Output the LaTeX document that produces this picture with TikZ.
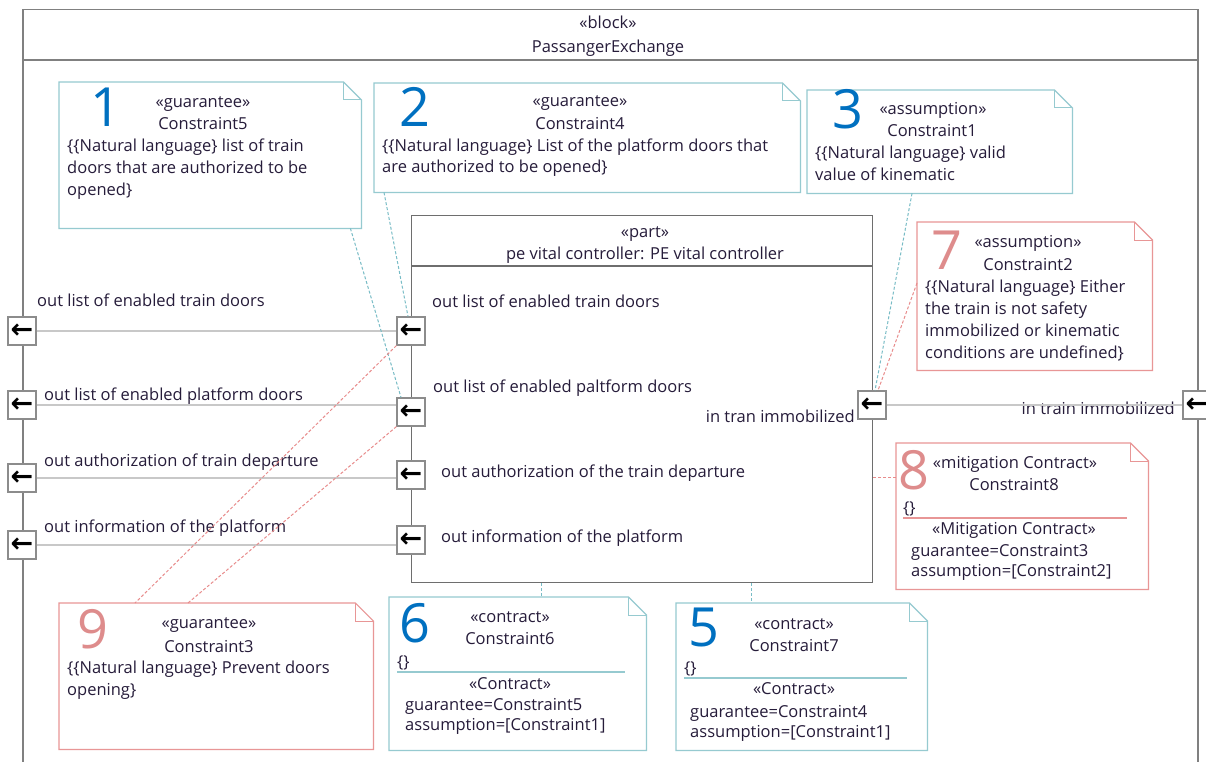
\documentclass[tikz,border=0pt]{standalone}
\usepackage{fontspec}
\setmainfont{Open Sans}
\newfontfamily\arrowfont{DejaVu Sans}
\usetikzlibrary{calc}
\definecolor{ink}{RGB}{38,28,58}
\definecolor{framegray}{RGB}{128,128,128}
\definecolor{partgray}{RGB}{110,110,110}
\definecolor{linegray}{RGB}{200,200,200}
\definecolor{portgray}{RGB}{140,140,140}
\definecolor{teal}{RGB}{150,202,208}
\definecolor{tealdash}{RGB}{120,188,198}
\definecolor{pinkb}{RGB}{232,150,150}
\definecolor{pinkdash}{RGB}{232,140,140}
\definecolor{digblue}{RGB}{0,112,192}
\definecolor{digpink}{RGB}{222,140,140}
\tikzset{
  txt/.style={inner sep=0, text=ink, font=\fontsize{16.5}{20}\selectfont},
  lbl/.style={txt, anchor=base west},
  ctr/.style={txt, anchor=base},
  rlbl/.style={txt, anchor=base east},
  bigdig/.style={inner sep=0, anchor=base west, font=\fontsize{54}{54}\selectfont},
  notebox/.style={draw=none, inner sep=0, anchor=north west},
  port/.style={draw=portgray, fill=white, line width=1.2pt, minimum size=28pt, inner sep=0,
               font=\arrowfont\bfseries\fontsize{27}{27}\selectfont, text=black},
  conn/.style={draw=linegray, line width=2pt},
  tdash/.style={draw=tealdash, line width=1pt, dash pattern=on 3pt off 2pt},
  pdash/.style={draw=pinkdash, line width=1pt, dash pattern=on 3pt off 2pt},
}
\newcommand\notefold[2]{%
  \draw[#2, line width=1.2pt] (#1.north west) -- ([xshift=-18pt]#1.north east) -- ([yshift=-18pt]#1.north east) -- (#1.south east) -- (#1.south west) -- cycle;
  \draw[#2, line width=1pt] ([xshift=-18pt]#1.north east) |- ([yshift=-18pt]#1.north east);}
\begin{document}
\begin{tikzpicture}[x=1pt,y=-1pt]
\useasboundingbox (0,0) rectangle (1206,762);
\fill[white] (0,0) rectangle (1206,762);

% outer block
\node[draw=framegray, line width=1.5pt, anchor=north west, minimum width=1175pt, minimum height=800pt, inner sep=0] (block) at (22,9) {};
\draw[framegray, line width=1.5pt] ($(block.north west)+(0,51)$) coordinate (bh1) -- ($(block.north east)+(0,51)$) coordinate (bh2);
\node[ctr] (tblock1) at (608,29) {«block»};
\node[ctr] (tblock2) at (608,53) {PassangerExchange};

% part
\node[draw=partgray, line width=1.2pt, anchor=north west, minimum width=461pt, minimum height=367pt, inner sep=0] (part) at (411,215) {};
\draw[partgray, line width=1.2pt] ($(part.north west)+(0,51)$) coordinate (ph1) -- ($(part.north east)+(0,51)$) coordinate (ph2);
\node[ctr] (tpart1) at (645,237) {«part»};
\node[ctr] (tpart2) at (645,259) {pe vital controller: PE vital controller};

% ports
\node[port] (op1) at (22,331) {←};
\node[port] (op2) at (22,405) {←};
\node[port] (op3) at (22,478) {←};
\node[port] (op4) at (22,545) {←};
\node[port] (pp1) at (411,331) {←};
\node[port] (pp2) at (411,412) {←};
\node[port] (pp3) at (411,475) {←};
\node[port] (pp4) at (411,540) {←};
\node[port] (pr) at (872,405) {←};
\node[port] (orp) at (1197,405) {←};

% port labels
\node[lbl] (lo1) at (37,306) {out list of enabled train doors};
\node[lbl] (lo2) at (44,400) {out list of enabled platform doors};
\node[lbl] (lo3) at (44,466) {out authorization of train departure};
\node[lbl] (lo4) at (44,532) {out information of the platform};
\node[lbl] (lp1) at (432,307) {out list of enabled train doors};
\node[lbl] (lp2) at (433,392) {out list of enabled paltform doors};
\node[lbl] (lp3) at (441,477) {out authorization of the train departure};
\node[lbl] (lp4) at (441,542) {out information of the platform};
\node[rlbl] (lpr) at (855,422) {in tran immobilized};
\node[rlbl] (lor) at (1175,414) {in train immobilized};

% connectors
\draw[conn] (op1.east) -- (op1.east -| pp1.west);
\draw[conn] (op2.east) -- (op2.east -| pp2.west);
\draw[conn] (op3.east) -- (op3.east -| pp3.west);
\draw[conn] (op4.east) -- (op4.east -| pp4.west);
\draw[conn] (pr.east) -- (orp.west);

% notes
\node[notebox, minimum width=302pt, minimum height=146pt] (n1) at (59,82) {};
\node[notebox, minimum width=426pt, minimum height=109pt] (n2) at (374,83) {};
\node[notebox, minimum width=265pt, minimum height=103pt] (n3) at (807,90) {};
\node[notebox, minimum width=235pt, minimum height=148pt] (n7) at (917,222) {};
\node[notebox, minimum width=252pt, minimum height=146pt] (n8) at (896,443) {};
\node[notebox, minimum width=314pt, minimum height=146pt] (n9) at (59,603) {};
\node[notebox, minimum width=257pt, minimum height=153pt] (n6) at (389,597) {};
\node[notebox, minimum width=251pt, minimum height=147pt] (n5) at (676,603) {};
\notefold{n1}{teal}
\notefold{n2}{teal}
\notefold{n3}{teal}
\notefold{n7}{pinkb}
\notefold{n8}{pinkb}
\notefold{n9}{pinkb}
\notefold{n6}{teal}
\notefold{n5}{teal}

% dashed anchors
\draw[tdash] ($(n1.south east)+(-11,0)$) -- ($(pp2.north)+(-10,0)$);
\draw[tdash] ($(n2.south west)+(10,0)$) -- ($(pp1.north)+(-3,0)$);
\draw[tdash] ($(n3.south west)+(105,0)$) -- ($(pr.north)+(3,0)$);
\draw[pdash] ($(n7.north west)+(0,61)$) -- ($(pr.north)+(6,0)$);
\draw[pdash] ($(n8.north west)+(0,34)$) coordinate (c8) -- (c8 -| part.east);
\draw[pdash] (pp1.south west) -- ($(n9.north west)+(76,0)$);
\draw[pdash] (pp2.south west) -- ($(n9.north west)+(129,0)$);
\draw[tdash] ($(part.south west)+(130,0)$) coordinate (c6) -- (c6 |- n6.north);
\draw[tdash] ($(part.south west)+(340,0)$) coordinate (c5) -- (c5 |- n5.north);

% note 1
\node[bigdig, text=digblue] (d1) at (90,127) {1};
\node[ctr] (n1a) at (203,108) {«guarantee»};
\node[ctr] (n1b) at (203,130) {Constraint5};
\node[lbl] (n1c) at (67,152) {\{\{Natural language\} list of train};
\node[lbl] (n1d) at (67,174) {doors that are authorized to be};
\node[lbl] (n1e) at (67,196) {opened\}};

% note 2
\node[bigdig, text=digblue] (d2) at (399,127) {2};
\node[ctr] (n2a) at (580,107) {«guarantee»};
\node[ctr] (n2b) at (580,130) {Constraint4};
\node[lbl] (n2c) at (382,152) {\{\{Natural language\} List of the platform doors that};
\node[lbl] (n2d) at (382,173) {are authorized to be opened\}};

% note 3
\node[bigdig, text=digblue] (d3) at (832,129) {3};
\node[ctr] (n3a) at (933,115) {«assumption»};
\node[ctr] (n3b) at (932,137) {Constraint1};
\node[lbl] (n3c) at (815,159) {\{\{Natural language\} valid};
\node[lbl] (n3d) at (815,181) {value of kinematic};

% note 7
\node[bigdig, text=digpink] (d7) at (931,269) {7};
\node[ctr] (n7a) at (1028,247) {«assumption»};
\node[ctr] (n7b) at (1028,270) {Constraint2};
\node[lbl] (n7c) at (925,292) {\{\{Natural language\} Either};
\node[lbl] (n7d) at (925,314) {the train is not safety};
\node[lbl] (n7e) at (925,336) {immobilized or kinematic};
\node[lbl] (n7f) at (925,358) {conditions are undefined\}};

% note 8
\node[bigdig, text=digpink] (d8) at (898,489) {8};
\node[ctr] (n8a) at (1015,468) {«mitigation Contract»};
\node[ctr] (n8b) at (1014,490) {Constraint8};
\node[lbl] (n8c) at (903,513) {\{\}};
\draw[pinkb, line width=1.2pt] (903,518) coordinate (s8a) -- (1127,518) coordinate (s8b);
\node[ctr] (n8d) at (1014,534) {«Mitigation Contract»};
\node[lbl] (n8e) at (911,556) {guarantee=Constraint3};
\node[lbl] (n8f) at (911,576) {assumption=[Constraint2]};

% note 9
\node[bigdig, text=digpink] (d9) at (77,648) {9};
\node[ctr] (n9a) at (209,628) {«guarantee»};
\node[ctr] (n9b) at (209,652) {Constraint3};
\node[lbl] (n9c) at (67,673) {\{\{Natural language\} Prevent doors};
\node[lbl] (n9d) at (67,695) {opening\}};

% note 6
\node[bigdig, text=digblue] (d6) at (399,642) {6};
\node[ctr] (n6a) at (510,622) {«contract»};
\node[ctr] (n6b) at (510,644) {Constraint6};
\node[lbl] (n6c) at (397,667) {\{\}};
\draw[teal, line width=1.2pt] (397,672) coordinate (s6a) -- (625,672) coordinate (s6b);
\node[ctr] (n6d) at (510,689) {«Contract»};
\node[lbl] (n6e) at (405,710) {guarantee=Constraint5};
\node[lbl] (n6f) at (405,730) {assumption=[Constraint1]};

% note 5
\node[bigdig, text=digblue] (d5) at (688,646) {5};
\node[ctr] (n5a) at (794,629) {«contract»};
\node[ctr] (n5b) at (794,651) {Constraint7};
\node[lbl] (n5c) at (684,673) {\{\}};
\draw[teal, line width=1.2pt] (684,678) coordinate (s5a) -- (907,678) coordinate (s5b);
\node[ctr] (n5d) at (794,694) {«Contract»};
\node[lbl] (n5e) at (690,717) {guarantee=Constraint4};
\node[lbl] (n5f) at (690,737) {assumption=[Constraint1]};
\end{tikzpicture}
\end{document}
